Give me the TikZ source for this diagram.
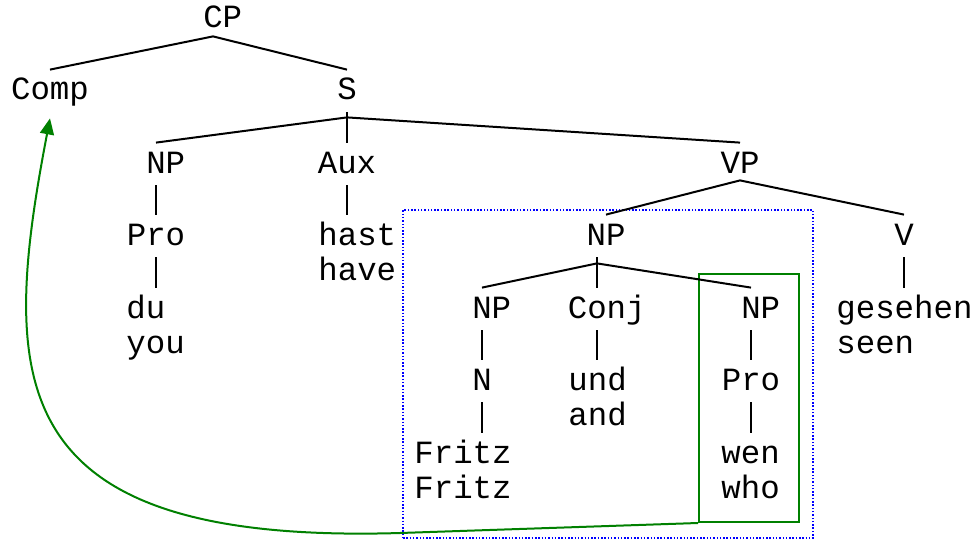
\documentclass[tikz,border=0pt]{standalone}
\usepackage{fontspec}
\newfontfamily\treefont{Liberation Mono}
\usetikzlibrary{arrows.meta}

\begin{document}
\begin{tikzpicture}[
  x=0.5pt, y=-0.5pt,
  cat/.style={font=\treefont\fontsize{16.2}{19}\selectfont, anchor=base, inner xsep=0pt, inner ysep=6pt, text height=9pt, text depth=0pt},
  word/.style={cat, anchor=base west},
  edge/.style={line width=1pt},
  constit/.style={draw=blue, line width=0.75pt, dash pattern=on 0.75pt off 0.9pt, inner sep=0pt},
  whbox/.style={draw=green!50!black, line width=1pt, inner sep=0pt},
  move/.style={draw=green!50!black, line width=1pt, -{Triangle[length=8pt,width=7pt]}}
]
  \useasboundingbox (0,0) rectangle (974,540);

  % boxes
  \node[constit, minimum width=205pt, minimum height=164pt] (coord) at (608,374) {};
  \node[whbox, minimum width=50pt, minimum height=124pt] (wh) at (749,398) {};

  % categories
  \node[cat] (cp) at (213,28) {\hphantom{C}CP};
  \node[cat] (comp) at (50,100) {Comp};
  \node[cat] (s) at (347,100) {S};
  \node[cat] (np1) at (156,173) {\hphantom{N}NP};
  \node[cat] (aux) at (347,173) {Aux};
  \node[cat] (vp) at (740,173) {VP};
  \node[cat] (pro1) at (156,245) {Pro};
  \node[cat] (np2) at (606,245) {NP};
  \node[cat] (v) at (904,245) {V};
  \node[cat] (np3) at (482,318) {\hphantom{N}NP};
  \node[cat] (conj) at (597,318) {\hphantom{C}Conj};
  \node[cat] (np4) at (751,318) {\hphantom{N}NP};
  \node[cat] (n) at (482,390) {N};
  \node[cat] (pro2) at (751,390) {Pro};

  % words and glosses
  \node[word] (du) at (126,318) {du};
  \node[word] (you) at (126,353) {you};
  \node[word] (hast) at (318,245) {hast};
  \node[word] (have) at (318,280) {have};
  \node[word] (fritz) at (414,463) {Fritz};
  \node[word] (fritzgl) at (414,498) {Fritz};
  \node[word] (und) at (568,390) {und};
  \node[word] (and) at (568,425) {and};
  \node[word] (wen) at (721,463) {wen};
  \node[word] (who) at (721,498) {who};
  \node[word] (gesehen) at (836,318) {gesehen};
  \node[word] (seen) at (836,353) {seen};

  % forks
  \coordinate (cpf) at ([yshift=2pt]cp.south);
  \coordinate (sf) at ([yshift=-2.5pt]s.south);
  \coordinate (vpf) at ([yshift=2.5pt]vp.south);
  \coordinate (np2f) at ([yshift=-3pt]np2.south -| conj.north);

  \draw[edge] (comp.north) -- (cpf) -- (s.north);
  \draw[edge] (np1.north) -- (sf) -- (vp.north);
  \draw[edge] (s.south) -- (aux.north);
  \draw[edge] (np1.south) -- (pro1.north);
  \draw[edge] (pro1.south) -- (pro1.south |- du.north);
  \draw[edge] (aux.south) -- (aux.south |- hast.north);
  \draw[edge] (np2.north) -- (vpf) -- (v.north);
  \draw[edge] (v.south) -- (v.south |- gesehen.north);
  \draw[edge] (np3.north) -- (np2f) -- (np4.north);
  \draw[edge] (np2f |- np2.south) -- (conj.north);
  \draw[edge] (np3.south) -- (n.north);
  \draw[edge] (n.south) -- (n.south |- fritz.north);
  \draw[edge] (conj.south) -- (conj.south |- und.north);
  \draw[edge] (np4.south) -- (pro2.north);
  \draw[edge] (pro2.south) -- (pro2.south |- wen.north);

  % movement
  \coordinate (low) at (400,533);
  \coordinate (tip) at ([yshift=-3pt]comp.south);
  \draw[move] (wh.south west) -- (low) .. controls (0,545) and (0,380) .. (tip);
\end{tikzpicture}
\end{document}
